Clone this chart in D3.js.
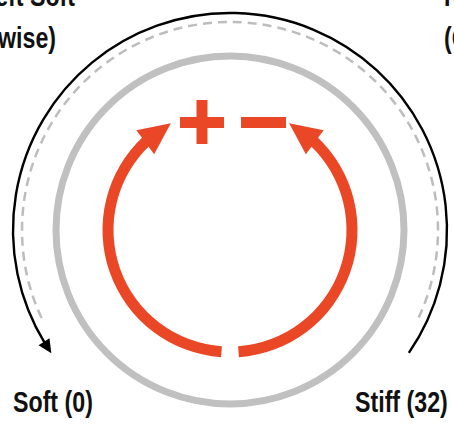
<!DOCTYPE html>
<html>
<head>
<meta charset="utf-8">
<script src="https://cdn.jsdelivr.net/npm/d3@7"></script>
<style>
  body { margin: 0; background: #fff; }
  svg text { font-family: "Liberation Sans", Arial, sans-serif; font-weight: bold; font-size: 29px; fill: #111; }
</style>
</head>
<body>
<div class="stage"></div>
<script>
// stage
var width = 454;
var height = 424;
var cx = 230, cy = 230;

// rings: radius of each circle
var ringNames  = ['knob', 'dashedTrack', 'outerTrack', 'loop'];
var ringRadius = [174, 208, 217, 122];

// arcs in degrees (clockwise from 12 o'clock)
var loopArcs   = [[-176, -43], [43, 176]];     // red shafts
var loopTips   = [-29, 29];                    // red arrow tips
var dashedArc  = [-115, 115];
var outerArc   = [-121.5, 124.5];
var outerTip   = -124.6;

// labels
var topLeftLines  = ['Left Soft', '(Anticlockwise)'];
var topRightLines = ['Right Stiff', '(Clockwise)'];
var bottomLabels  = ['Soft (0)', 'Stiff (32)'];

var red = '#ea4726';
var gray = '#c0c0c0';
var squeeze = 0.8;   // condensed look for the labels

var rad = d3.scaleLinear().domain([0, 360]).range([0, 2 * Math.PI]);

var pt = function(r, deg) {
  var a = rad(deg);
  return [cx + r * Math.sin(a), cy - r * Math.cos(a)];
};

var svg = d3.select('.stage')
            .append('svg')
            .attr('width', width)
            .attr('height', height);

var g = svg.append('g').attr('transform', 'translate(' + cx + ',' + cy + ')');

// knob circle
g.append('circle')
  .attr('r', ringRadius[0])
  .attr('fill', 'none')
  .attr('stroke', gray)
  .attr('stroke-width', 7);

// dashed track
var strokeArc = function(r, a0, a1) {
  var p = d3.path();
  p.arc(0, 0, r, rad(a0) - Math.PI / 2, rad(a1) - Math.PI / 2, a1 < a0);
  return p.toString();
};

g.append('path')
  .attr('d', strokeArc(ringRadius[1], dashedArc[0], dashedArc[1]))
  .attr('fill', 'none')
  .attr('stroke', '#bdbdbd')
  .attr('stroke-width', 2.5)
  .attr('stroke-dasharray', '9,6');

// outer black arc with arrow at left end
g.append('path')
  .attr('d', strokeArc(ringRadius[2], outerArc[0], outerArc[1]))
  .attr('fill', 'none')
  .attr('stroke', '#000')
  .attr('stroke-width', 2.4);

var arrowHead = function(r, baseDeg, tipDeg, halfW) {
  var b = pt(r, baseDeg), t = pt(r, tipDeg);
  var dx = t[0] - b[0], dy = t[1] - b[1];
  var len = Math.sqrt(dx * dx + dy * dy);
  var nx = -dy / len * halfW, ny = dx / len * halfW;
  return [[b[0] + nx, b[1] + ny], t, [b[0] - nx, b[1] - ny]];
};

svg.append('polygon')
  .attr('points', arrowHead(ringRadius[2], outerArc[0] + 0.5, outerTip, 6.5).join(' '))
  .attr('fill', '#000');

// red loop
var arc = d3.arc()
  .innerRadius(ringRadius[3] - 5.5)
  .outerRadius(ringRadius[3] + 5.5);

g.selectAll('path.loop')
  .data(loopArcs)
  .enter()
  .append('path')
  .attr('class', 'loop')
  .attr('d', function(d) {
    return arc({ startAngle: rad(d[0]), endAngle: rad(d[1]) });
  })
  .attr('fill', red);

svg.selectAll('polygon.tip')
  .data(loopTips)
  .enter()
  .append('polygon')
  .attr('class', 'tip')
  .attr('points', function(d, i) {
    var base = i === 0 ? loopArcs[0][1] : loopArcs[1][0];
    return arrowHead(ringRadius[3], base + (i === 0 ? -1 : 1), d, 15).join(' ');
  })
  .attr('fill', red);

// plus and minus
var plus = svg.append('g').attr('fill', red);
plus.append('rect').attr('x', 180).attr('y', 117).attr('width', 44).attr('height', 11);
plus.append('rect').attr('x', 196.5).attr('y', 100).attr('width', 11).attr('height', 44);
svg.append('rect').attr('x', 241).attr('y', 117).attr('width', 45).attr('height', 11).attr('fill', red);

// texts
var place = function(x, y) {
  return 'translate(' + x + ',' + y + ') scale(' + squeeze + ',1)';
};

svg.selectAll('text.tl')
  .data(topLeftLines)
  .enter()
  .append('text')
  .attr('class', 'tl')
  .attr('text-anchor', 'end')
  .attr('transform', function(d, i) { return place(i === 0 ? 75 : 56, 6 + i * 42); })
  .text(function(d) { return d; });

svg.selectAll('text.tr')
  .data(topRightLines)
  .enter()
  .append('text')
  .attr('class', 'tr')
  .attr('transform', function(d, i) { return place(444, 6 + i * 42); })
  .text(function(d) { return d; });

svg.selectAll('text.bl')
  .data(bottomLabels)
  .enter()
  .append('text')
  .attr('class', 'bl')
  .attr('transform', function(d, i) { return place(i === 0 ? 13 : 355, 412); })
  .text(function(d) { return d; });
</script>
</body>
</html>
